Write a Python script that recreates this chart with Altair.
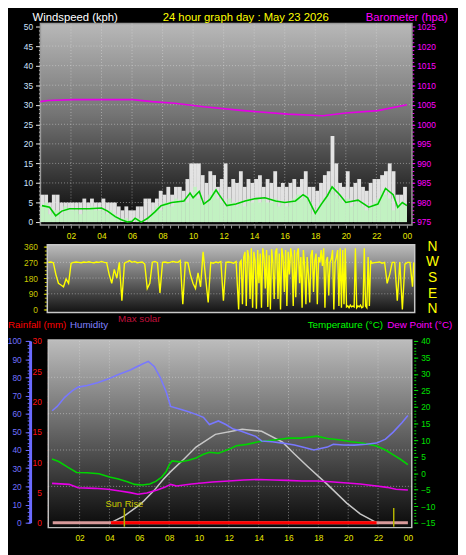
import altair as alt
import pandas as pd

FONT = "Liberation Sans"

# ---------------- data ----------------
HOUR_TICKS = [2, 4, 6, 8, 10, 12, 14, 16, 18, 20, 22, 24]
HOUR_LABELS = ["02", "04", "06", "08", "10", "12", "14", "16", "18", "20", "22", "00"]
HALF_HOURS = [0.5 * i for i in range(1, 49)]

WIND_TICKS = [0, 5, 10, 15, 20, 25, 30, 35, 40, 45, 50]
BARO_TICKS = [975, 980, 985, 990, 995, 1000, 1005, 1010, 1015, 1020, 1025]
DIR_TICKS = [0, 90, 180, 270, 360]
HUM_TICKS = [0, 10, 20, 30, 40, 50, 60, 70, 80, 90, 100]
RAIN_TICKS = [0, 5, 10, 15, 20, 25, 30]
TEMP_TICKS = [-15, -10, -5, 0, 5, 10, 15, 20, 25, 30, 35, 40]

# wind gust / speed, 15-minute slots from 00:00
GUST = [7, 7, 5, 7,  7, 5, 5, 5,  5, 5, 5, 6,  5, 6, 5, 5,  6, 5, 5, 5,  4, 3, 4, 3,
        3, 4, 4, 6,  6, 5, 6, 8,  7, 9, 7, 9,  9, 8, 11, 15,  15, 15, 12, 10,  13, 12, 9, 11,
        15, 9, 11, 10,  13, 9, 11, 10,  11, 12, 9, 11,  10, 13, 9, 10,  9, 10, 11, 9,  11, 13, 9, 9,
        8, 10, 12, 13,  22, 15, 10, 9,  13, 9, 10, 11,  9, 8, 10, 11,  11, 12, 13, 15,  13, 7, 7, 9]
SPEED = [4, 5, 2, 3,  3, 2, 4, 3,  3, 3, 2, 3,  3, 4, 3, 3,  3, 2, 3, 2,  1, 0, 1, 0,
         0, 1, 0, 0,  1, 3, 4, 3,  5, 5, 4, 6,  5, 6, 5, 7,  9, 6, 5, 5,  7, 8, 6, 5,
         4, 6, 5, 4,  5, 4, 6, 5,  6, 5, 6, 5,  5, 6, 4, 5,  4, 5, 6, 7,  6, 7, 5, 2,
         3, 5, 6, 7,  9, 7, 6, 5,  6, 4, 5, 5,  4, 3, 4, 5,  6, 8, 7, 6,  3, 4, 5, 4]
SLOT_H = [0.25 * i for i in range(96)]

AVG_H = [0.1, 0.6, 1.0, 1.4, 1.9, 3.2, 4.0, 4.4, 4.9, 5.3, 5.7, 6.0, 6.2, 6.6, 7.0, 7.5, 7.9,
         8.6, 9.4, 9.8, 10.0, 10.4, 10.7, 11.1, 11.5, 11.7, 12.2, 12.8, 13.4, 14.1, 14.7, 15.4,
         16.0, 16.7, 17.2, 17.5, 18.0, 18.4, 18.8, 19.1, 19.6, 20.0, 20.8, 21.5, 22.1, 22.6,
         23.1, 23.4, 23.7, 24.0]
AVG_KPH = [4.2, 3.8, 1.6, 2.8, 3.4, 3.4, 3.6, 2.8, 1.4, 0.6, 0.0, 0.2, 1.0, 0.0, 0.9, 2.6, 4.2,
           5.0, 5.4, 7.4, 6.2, 7.8, 4.6, 5.8, 8.2, 7.0, 4.2, 4.6, 5.4, 6.0, 6.2, 5.4,
           5.0, 5.4, 7.0, 6.2, 2.2, 4.6, 6.8, 9.0, 7.0, 5.0, 5.6, 3.8, 4.6, 8.6,
           7.0, 3.8, 5.0, 4.2]

BARO_H = [0.0, 0.5, 2.2, 6.05, 7.3, 8.8, 10.7, 13.3, 16.2, 18.5, 20.0, 22.1, 24.0]
BARO_HPA = [1005.8, 1006.1, 1006.3, 1006.3, 1005.8, 1005.4, 1004.5, 1003.5, 1002.6, 1002.2,
            1002.9, 1003.5, 1005.0]

# wind direction: 00:00-12:20 every 10 min
DIR_A = [270, 272, 268, 200, 150, 140,  130, 175, 150, 265, 270, 272,
         270, 268, 272, 270, 273, 270,  268, 272, 270, 275, 270, 268,
         200, 150, 230, 180, 270, 50,   265, 272, 280, 270, 275, 268,
         270, 272, 260, 120, 150, 270,  275, 268, 95, 270, 272, 268,
         270, 275, 272, 270, 280, 30,   270, 268, 200, 150, 120, 210,
         130, 330, 180, 40, 270, 265,   272, 268, 275, 50, 270, 272,
         270, 265, 275]
# 12:30-21:10 every 5 min (gusty, veering period)
DIR_B = [0, 270, 280, 30, 300, 330,
         20, 340, 300, 60, 350, 10, 330, 280, 5, 340, 150, 320,
         10, 350, 300, 120, 340, 15, 310, 0, 345, 270, 60, 330,
         350, 60, 320, 0, 350, 300, 100, 340, 20, 330, 200, 350,
         300, 20, 340, 70, 320, 350, 150, 300, 10, 340, 250, 30,
         300, 200, 40, 310, 340, 100, 280, 320, 30, 300, 270, 340,
         250, 350, 10, 280, 300, 80, 270, 290, 340, 0, 270, 300,
         340, 20, 350, 10, 340, 30, 350, 15, 20, 10, 25, 15,
         20, 15, 350, 10, 20, 15, 25, 10, 15, 350, 20, 10,
         300, 20, 280]
# 21:15-24:00 every 10 min
DIR_C = [265, 268, 270, 272, 265, 270, 150, 200, 270, 270, 50, 272, 0, 260, 270, 270, 130, 270]
DIR_DEG = DIR_A + DIR_B + DIR_C
DIR_H = ([i / 6 for i in range(len(DIR_A))] + [12.5 + i / 12 for i in range(len(DIR_B))]
         + [21.25 + i / 6 for i in range(len(DIR_C) - 1)] + [24.0])
COMPASS = ["N", "W", "S", "E", "N"]
COMPASS_DEG = [360, 270, 180, 90, 0]

HUM_H = [0.16, 0.5, 1.0, 1.5, 1.9, 2.5, 3.2, 3.9, 4.6, 5.4, 6.0, 6.6, 7.0, 7.4, 7.8, 8.1, 8.7,
         9.3, 9.8, 10.3, 10.7, 11.3, 11.8, 12.3, 12.8, 13.3, 13.8, 14.2, 14.9, 15.6, 16.4, 17.0,
         17.7, 18.6, 19.0, 19.7, 20.4, 21.2, 21.9, 22.5, 23.0, 23.6, 24.0]
HUM = [61.6, 64, 69, 72.5, 74.6, 75.5, 77, 79, 81.5, 84, 86.5, 88.8, 86, 80, 72, 64, 62.5,
       61, 59.6, 58, 54, 56, 54, 51.5, 50.5, 49, 47.5, 45, 44.5, 43.8, 42.7, 41.5,
       40, 41.6, 43.2, 42.8, 42.7, 43.2, 43.8, 46, 49.7, 55, 59]

TEMP_H = [0.15, 0.6, 1.2, 1.8, 2.5, 3.3, 4.0, 4.6, 5.2, 5.7, 6.2, 6.7, 7.1, 7.5, 7.8, 8.0, 8.2,
          8.7, 9.3, 9.8, 10.3, 10.7, 11.3, 12.0, 12.5, 13.2, 14.0, 14.6, 15.3, 16.0, 16.8, 17.4,
          17.9, 18.6, 19.5, 20.2, 20.8, 21.4, 21.9, 22.5, 23.0, 23.5, 24.0]
TEMP = [4.3, 3.5, 1.8, 0.2, 0.1, -0.2, -1.2, -1.8, -2.6, -3.4, -3.6, -3.3, -2.5, -1.2, 0.5, 2.5, 3.7,
        3.4, 3.9, 4.6, 5.7, 6.3, 6.0, 7.2, 8.3, 8.7, 9.5, 9.8, 10.2, 10.6, 10.6, 10.9,
        11.2, 10.5, 10.0, 9.5, 9.2, 8.7, 8.2, 7.0, 5.6, 4.2, 2.6]

DEW_H = [0.15, 1.3, 1.9, 3.0, 3.9, 4.7, 5.4, 5.9, 6.5, 7.2, 7.7, 8.1, 8.5, 9.5, 10.9, 12.0, 13.0,
         14.0, 15.0, 15.9, 16.9, 17.9, 18.8, 19.7, 20.8, 21.9, 22.6, 23.2, 24.0]
DEW = [-3.1, -3.4, -4.4, -4.6, -4.9, -5.4, -5.9, -6.4, -6.0, -5.1, -4.3, -3.4, -3.9, -3.3, -2.7,
       -2.4, -2.1, -1.9, -2.1, -2.2, -2.4, -2.4, -2.6, -2.9, -3.3, -3.9, -4.3, -4.9, -5.1]

SOL_H = [4.1, 5.0, 6.0, 6.3, 7.0, 7.6, 8.1, 9.0, 9.8, 11.1, 12.9, 14.2, 15.6, 16.4, 17.3, 18.6,
         19.9, 20.8, 21.9]
SOL = [0, 38, 97, 119, 178, 238, 281, 351, 416, 486, 514, 503, 443, 378, 308, 211, 108, 49, 0]

RAIN_H = [0.2, 24.0]
RAIN_MM = [0.0, 0.0]

SUN_H = [5.0, 23.05]
SUN_TEXT = ["Sun Rise", ""]

# ---------------- layout ----------------
W, H = 458, 547


def sc(domain, rng):
    return alt.Scale(domain=domain, range=rng, nice=False, zero=False)


X_TOP = sc([0, 24], [33, 406])
Y_WIND = sc([0, 50], [213, 14])
Y_BARO = sc([975, 1025], [213, 14])
X_MID = sc([0, 24], [41, 413])
Y_DIR = sc([0, 360], [302, 238])
X_BOT = sc([0, 24], [42.5, 407])
Y_HUM = sc([0, 100], [519, 334])
Y_RAIN = sc([0, 30], [519, 334])
Y_TEMP = sc([-15, 40], [519, 334])
Y_SOL = sc([0, 1000], [519, 334])

LABEL_EXPR = ("['" + "','".join(HOUR_LABELS) + "'][indexof(" + str(HOUR_TICKS) + ", datum.value)]")


def grad(stops):
    return {"gradient": "linear", "x1": 0, "x2": 0, "y1": 0, "y2": 1,
            "stops": [{"offset": o, "color": c} for o, c in stops]}


def panel(xs, ys, ext, stops, stroke):
    d = pd.DataFrame({"x0": [ext[0]], "x1": [ext[1]], "y0": [ext[2]], "y1": [ext[3]]})
    return alt.Chart(d).mark_rect(fill=grad(stops), stroke=stroke, strokeWidth=1.5).encode(
        x=alt.X("x0:Q", scale=xs, axis=None), x2="x1",
        y=alt.Y("y1:Q", scale=ys, axis=None), y2="y0")


def hgrid(xs, ys, vals, x0, x1, yaxis=None):
    d = pd.DataFrame({"v": vals, "a": [x0] * len(vals), "b": [x1] * len(vals)})
    return alt.Chart(d).mark_rule(color="#e0e0e0", strokeDash=[1, 2], opacity=0.5).encode(
        y=alt.Y("v:Q", scale=ys, axis=yaxis), x=alt.X("a:Q", scale=xs, axis=None), x2="b")


def vgrid(xs, ys, vals, y0, y1, xaxis=None, yaxis=None):
    d = pd.DataFrame({"v": vals, "a": [y0] * len(vals), "b": [y1] * len(vals)})
    return alt.Chart(d).mark_rule(color="#e0e0e0", strokeDash=[1, 2], opacity=0.5).encode(
        x=alt.X("v:Q", scale=xs, axis=xaxis), y=alt.Y("a:Q", scale=ys, axis=yaxis), y2="b")


def minor(orient, offset, values, color, size=2):
    return alt.Axis(orient=orient, offset=offset, values=values, labels=False, domain=False,
                    tickColor=color, tickSize=size, grid=False, title=None)


def text(t, x, y, color, size=11, align="left"):
    return alt.Chart(pd.DataFrame({"t": [t]})).mark_text(
        font=FONT, fontSize=size, color=color, align=align, baseline="middle").encode(
        text="t:N", x=alt.value(x), y=alt.value(y))


layers = []

# ---------- top panel: wind & barometer ----------
layers.append(panel(X_TOP, Y_WIND, [0, 24.33, -0.75, 50.75],
                    [(0, "#b8b8b8"), (0.45, "#747474"), (0.75, "#383838"), (1, "#060606")], "#9a9a9a"))
layers.append(hgrid(X_TOP, Y_WIND, WIND_TICKS[1:-1], 0, 24.33,
                    yaxis=minor("left", -33, list(range(1, 50)), "#d0d0d0", 2)))
layers.append(vgrid(X_TOP, Y_WIND, HOUR_TICKS[:-1], -0.75, 50.75,
                    xaxis=minor("bottom", -331, HALF_HOURS, "#9a9a9a", 3),
                    yaxis=minor("right", -47, list(range(1, 50)), "#ff00ff", 2)))

wind_df = pd.DataFrame({"h": SLOT_H, "h2": [h + 0.25 for h in SLOT_H], "g": GUST, "s": SPEED,
                        "z": [0] * len(SLOT_H)})
layers.append(alt.Chart(wind_df).mark_rect(color="#ececec", opacity=0.95).encode(
    x=alt.X("h:Q", scale=X_TOP, axis=alt.Axis(
        orient="bottom", offset=-331, values=HOUR_TICKS, labelExpr=LABEL_EXPR, ticks=False,
        domain=False, grid=False, labelColor="#e8e800", labelFont=FONT, labelFontSize=8.5,
        labelPadding=7, labelFlush=False, title=None)),
    x2="h2",
    y=alt.Y("g:Q", scale=Y_WIND, axis=alt.Axis(
        orient="left", offset=-33, values=WIND_TICKS, domain=True, domainColor="#ffffff",
        domainWidth=2, tickColor="#e8e8e8", tickSize=5, grid=False, labelColor="#cfe3ff",
        labelFont=FONT, labelFontSize=8.5, labelPadding=3, title=None)),
    y2="z"))
layers.append(alt.Chart(wind_df).mark_rect(color="#c2f2c2").encode(
    x=alt.X("h:Q", scale=X_TOP, axis=None), x2="h2",
    y=alt.Y("s:Q", scale=Y_WIND, axis=None), y2="z"))
layers.append(alt.Chart(pd.DataFrame({"h": AVG_H, "v": AVG_KPH})).mark_line(
    color="#00cc00", strokeWidth=1.6).encode(
    x=alt.X("h:Q", scale=X_TOP, axis=None), y=alt.Y("v:Q", scale=Y_WIND, axis=None)))
layers.append(alt.Chart(pd.DataFrame({"h": BARO_H, "p": BARO_HPA})).mark_line(
    color="#e600e6", strokeWidth=1.6).encode(
    x=alt.X("h:Q", scale=X_TOP, axis=None),
    y=alt.Y("p:Q", scale=Y_BARO, axis=alt.Axis(
        orient="right", offset=-47, values=BARO_TICKS, domain=False, tickColor="#ff00ff",
        tickSize=3, grid=False, labelColor="#ff00ff", labelFont=FONT, labelFontSize=8.5,
        labelPadding=2, format="d", title=None))))

layers.append(text("Windspeed (kph)", 25, 5, "#ffffff", size=11.5))
layers.append(text("24 hour graph day : May 23 2026", 242, 5, "#ffff00", size=11.5, align="center"))
layers.append(text("Barometer (hpa)", 364, 5, "#ff00ff", size=11.5))

# ---------- middle panel: wind direction ----------
layers.append(panel(X_MID, Y_DIR, [-0.065, 24.06, -17, 371],
                    [(0, "#bcbcbc"), (0.5, "#6a6a6a"), (1, "#121212")], "#c8c8c8"))
layers.append(hgrid(X_MID, Y_DIR, [90, 180, 270], 0, 24,
                    yaxis=minor("left", -40, [22.5 * i for i in range(17)], "#c8c800", 3)))
layers.append(alt.Chart(pd.DataFrame({"h": DIR_H, "d": DIR_DEG})).mark_line(
    color="#ffff00", strokeWidth=1.4).encode(
    x=alt.X("h:Q", scale=X_MID, axis=None),
    y=alt.Y("d:Q", scale=Y_DIR, axis=alt.Axis(
        orient="left", offset=-40, values=DIR_TICKS, domain=False, tickColor="#c8c800",
        tickSize=4, grid=False, labelColor="#c8c800", labelFont=FONT, labelFontSize=8.5,
        labelPadding=6, title=None))))
layers.append(alt.Chart(pd.DataFrame({"c": COMPASS, "d": COMPASS_DEG})).mark_text(
    font=FONT, fontSize=14, color="#ffff00", align="center", baseline="middle").encode(
    text="c:N", y=alt.Y("d:Q", scale=Y_DIR, axis=None), x=alt.value(432)))

# ---------- bottom panel ----------
layers.append(panel(X_BOT, Y_HUM, [-0.1, 24.26, -2.7, 100.5],
                    [(0, "#bcbcbc"), (0.5, "#626262"), (0.8, "#2c2c2c"), (1, "#0a0a0a")], "#c0c0c0"))
layers.append(hgrid(X_BOT, Y_HUM, [20, 40, 60, 80], -0.1, 24.26,
                    yaxis=minor("left", -22.5, list(range(0, 101, 2)), "#6a6aff", 3)))
layers.append(vgrid(X_BOT, Y_RAIN, HOUR_TICKS[:-1], -0.8, 30.15,
                    yaxis=minor("left", -42, list(range(0, 31)), "#e00000", 2)))

layers.append(alt.Chart(pd.DataFrame({"h": SOL_H, "w": SOL})).mark_line(
    color="#c8c8c8", strokeWidth=1.5).encode(
    x=alt.X("h:Q", scale=X_BOT, axis=alt.Axis(
        orient="bottom", offset=-23, values=HOUR_TICKS, labelExpr=LABEL_EXPR, ticks=False,
        domain=False, grid=False, labelColor="#e8e800", labelFont=FONT, labelFontSize=8.5,
        labelPadding=6, labelFlush=False, title=None)),
    y=alt.Y("w:Q", scale=Y_SOL, axis=None)))

layers.append(alt.Chart(pd.DataFrame({"h": RAIN_H, "r": RAIN_MM})).mark_line(
    color="#d89a9a", strokeWidth=3).encode(
    x=alt.X("h:Q", scale=X_BOT, axis=None),
    y=alt.Y("r:Q", scale=Y_RAIN, axis=alt.Axis(
        orient="left", offset=-42, values=RAIN_TICKS, domain=False, tickColor="#e00000",
        tickSize=2, grid=False, labelColor="#ff1010", labelFont=FONT, labelFontSize=8.5,
        labelPadding=6, title=None))))
layers.append(alt.Chart(pd.DataFrame({"h": [SOL_H[0], SOL_H[-1]], "r": RAIN_MM})).mark_line(
    color="#ff0000", strokeWidth=3).encode(
    x=alt.X("h:Q", scale=X_BOT, axis=None), y=alt.Y("r:Q", scale=Y_RAIN, axis=None)))

layers.append(alt.Chart(pd.DataFrame({"h": TEMP_H, "t": TEMP})).mark_line(
    color="#00d400", strokeWidth=1.6).encode(
    x=alt.X("h:Q", scale=X_BOT, axis=None),
    y=alt.Y("t:Q", scale=Y_TEMP, axis=alt.Axis(
        orient="right", offset=-45, values=TEMP_TICKS, domain=False, tickColor="#00e000",
        tickSize=4, grid=False, labelColor="#00e000", labelFont=FONT, labelFontSize=8.5,
        labelPadding=3, title=None))))
layers.append(alt.Chart(pd.DataFrame({"h": DEW_H, "t": DEW})).mark_line(
    color="#e600e6", strokeWidth=1.6).encode(
    x=alt.X("h:Q", scale=X_BOT, axis=None),
    y=alt.Y("t:Q", scale=Y_TEMP, axis=minor("right", -45, list(range(-15, 41)), "#00e000", 2))))
layers.append(alt.Chart(pd.DataFrame({"h": HUM_H, "u": HUM})).mark_line(
    color="#7878ff", strokeWidth=1.6).encode(
    x=alt.X("h:Q", scale=X_BOT, axis=None),
    y=alt.Y("u:Q", scale=Y_HUM, axis=alt.Axis(
        orient="left", offset=-22.5, values=HUM_TICKS, domain=True, domainColor="#6a6aff",
        domainWidth=3, tickColor="#6a6aff", tickSize=5, grid=False, labelColor="#7070ff",
        labelFont=FONT, labelFontSize=8.5, labelPadding=4, title=None))))

sun_df = pd.DataFrame({"h": SUN_H, "t": SUN_TEXT, "a": [-2.2] * 2, "b": [8.1] * 2,
                       "ty": [10.5] * 2})
layers.append(alt.Chart(sun_df).mark_rule(color="#b4b400", strokeWidth=1.5).encode(
    x=alt.X("h:Q", scale=X_BOT, axis=None), y=alt.Y("a:Q", scale=Y_HUM, axis=None), y2="b"))
layers.append(alt.Chart(sun_df).mark_text(
    font=FONT, fontSize=9.5, color="#c8c800", align="center", baseline="middle").encode(
    text="t:N", x=alt.X("h:Q", scale=X_BOT, axis=None), y=alt.Y("ty:Q", scale=Y_HUM, axis=None)))

layers.append(text("Rainfall (mm)", 0, 318, "#ff0000", size=10))
layers.append(text("Humidity", 63, 318, "#8080ff", size=10))
layers.append(text("Max solar", 112, 312, "#c0103c", size=10))
layers.append(text("Temperature (°C)", 305, 318, "#00ff00", size=10))
layers.append(text("Dew Point (°C)", 386, 318, "#ff00ff", size=10))

chart = alt.layer(*layers).resolve_scale(x="independent", y="independent").properties(
    width=W, height=H, padding=0, background="#000000",
    autosize=alt.AutoSizeParams(type="none")).configure_view(strokeWidth=0)

chart.save("out.html", embed_options={"renderer": "svg", "actions": False})
